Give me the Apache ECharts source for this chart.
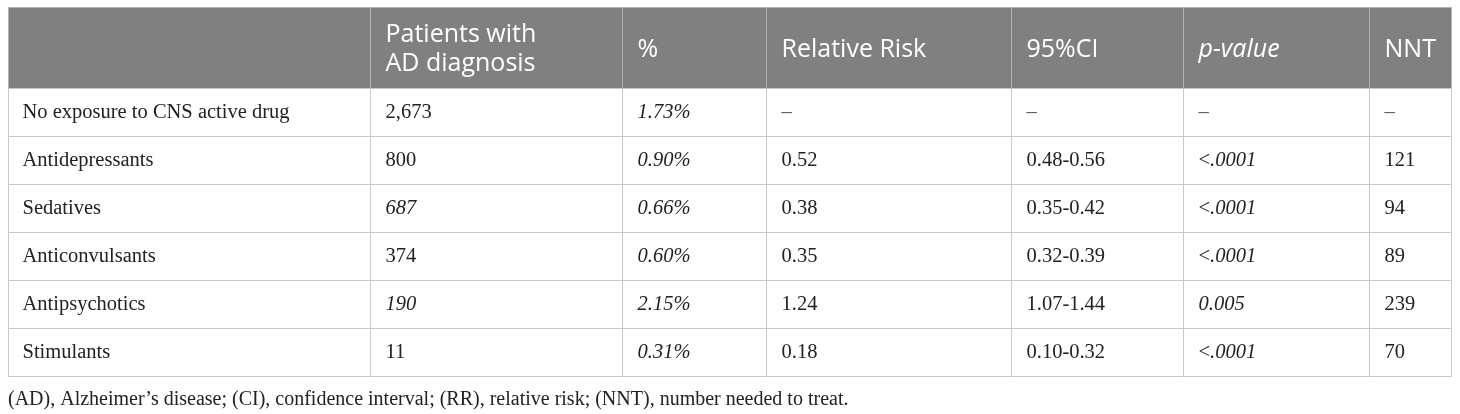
<!DOCTYPE html>
<html>
<head>
<meta charset="utf-8">
<script src="https://cdn.jsdelivr.net/npm/echarts@6/dist/echarts.min.js"></script>
<style>
html,body{margin:0;padding:0;background:#fff;}
#chart{width:1460px;height:414px;}
</style>
</head>
<body>
<div id="chart"></div>
<script>
// ---- data ----
const headers = ['', 'Patients with\nAD diagnosis', '%', 'Relative Risk', '95%CI', 'p-value', 'NNT'];
const rowLabels = ['No exposure to CNS active drug', 'Antidepressants', 'Sedatives', 'Anticonvulsants', 'Antipsychotics', 'Stimulants'];
const patients = ['2,673', '800', '687', '374', '190', '11'];
const percents = ['1.73%', '0.90%', '0.66%', '0.60%', '2.15%', '0.31%'];
const relativeRisk = ['–', '0.52', '0.38', '0.35', '1.24', '0.18'];
const ci95 = ['–', '0.48-0.56', '0.35-0.42', '0.32-0.39', '1.07-1.44', '0.10-0.32'];
const pValues = ['–', '<.0001', '<.0001', '<.0001', '0.005', '<.0001'];
const nnt = ['–', '121', '94', '89', '239', '70'];
const footnote = '(AD), Alzheimer’s disease; (CI), confidence interval; (RR), relative risk; (NNT), number needed to treat.';

// ---- layout / style (not data) ----
const colEdges = [0, 362, 614, 758, 1003, 1175, 1361, 1443];
const italicPatientRows = [2, 4];
const columns = [rowLabels, patients, percents, relativeRisk, ci95, pValues, nnt];

const serif = '"Liberation Serif", "Times New Roman", serif';
const sans = '"Open Sans", "Noto Sans", sans-serif';
const bodySize = 20.5;

function cellText(col, row) {
  const v = columns[col][row];
  if (v === '–') return { text: v, italic: false, dash: true };
  if (col === 2) return { text: v, italic: true };
  if (col === 1) return { text: v, italic: italicPatientRows.indexOf(row) >= 0 };
  if (col === 5) {
    if (v.charAt(0) === '<') return { text: '{n|<}{i|' + v.slice(1) + '}', italic: true, rich: true };
    return { text: v, italic: true };
  }
  return { text: v, italic: false };
}

const bodyData = [];
rowLabels.forEach((_, r) => { for (let c = 0; c < columns.length; c++) bodyData.push([c, r]); });
const headerData = headers.map((_, c) => [c, 0]);

function cellRect(api, col, row) {
  const p0 = api.coord([colEdges[col], row]);
  const p1 = api.coord([colEdges[col + 1], row]);
  const h = api.size([0, 1])[1];
  const x = Math.round(p0[0]) + 0.5;
  const w = Math.round(p1[0]) - Math.round(p0[0]);
  const y = Math.round(p0[1] - h / 2) + 0.5;
  return { x: x, y: y, w: w, h: Math.round(h), cy: p0[1] };
}

const option = {
  animation: false,
  title: {
    text: footnote,
    left: 8, top: 390, padding: 0,
    textStyle: { fontFamily: serif, fontSize: 20, fontWeight: 'normal', color: '#222' }
  },
  grid: [
    { left: 8, right: 9, top: 7, height: 81 },
    { left: 8, right: 9, top: 88, height: 288 }
  ],
  xAxis: [
    { type: 'value', gridIndex: 0, min: 0, max: colEdges[colEdges.length - 1], show: false },
    { type: 'value', gridIndex: 1, min: 0, max: colEdges[colEdges.length - 1], show: false }
  ],
  yAxis: [
    { type: 'category', gridIndex: 0, data: ['header'], show: false, inverse: true },
    { type: 'category', gridIndex: 1, data: rowLabels, show: false, inverse: true }
  ],
  series: [
    {
      type: 'custom', xAxisIndex: 0, yAxisIndex: 0, clip: false,
      data: headerData,
      renderItem: function (params, api) {
        const col = api.value(0), row = api.value(1);
        const r = cellRect(api, col, row);
        const isP = headers[col] === 'p-value';
        return {
          type: 'group',
          children: [
            { type: 'rect', shape: { x: r.x, y: r.y, width: r.w, height: r.h },
              style: { fill: '#808080', stroke: '#b3b3b3', lineWidth: 1 } },
            { type: 'text', x: r.x + 15, y: r.cy + 2,
              style: { text: headers[col], fill: '#fff', font: (isP ? 'italic ' : '') + '25px ' + sans,
                       verticalAlign: 'middle', align: 'left', lineHeight: 29 } }
          ]
        };
      }
    },
    {
      type: 'custom', xAxisIndex: 1, yAxisIndex: 1, clip: false,
      data: bodyData,
      renderItem: function (params, api) {
        const col = api.value(0), row = api.value(1);
        const r = cellRect(api, col, row);
        const t = cellText(col, row);
        const style = {
          text: t.text, fill: t.dash ? '#555' : '#222',
          fontFamily: serif, fontSize: bodySize, fontStyle: t.italic && !t.rich ? 'italic' : 'normal',
          verticalAlign: 'middle', align: 'left'
        };
        if (t.rich) {
          style.rich = {
            n: { fontFamily: serif, fontSize: bodySize, fontStyle: 'normal', fill: '#222' },
            i: { fontFamily: serif, fontSize: bodySize, fontStyle: 'italic', fill: '#222' }
          };
        }
        return {
          type: 'group',
          children: [
            { type: 'rect', shape: { x: r.x, y: r.y, width: r.w, height: r.h },
              style: { fill: '#fff', stroke: '#c8c8c8', lineWidth: 1 } },
            { type: 'text', x: r.x + (col === 0 ? 14 : 15), y: r.cy + 1, style: style }
          ]
        };
      }
    }
  ]
};

const chart = echarts.init(document.getElementById('chart'), null, { renderer: 'canvas' });
chart.setOption(option);
</script>
</body>
</html>
